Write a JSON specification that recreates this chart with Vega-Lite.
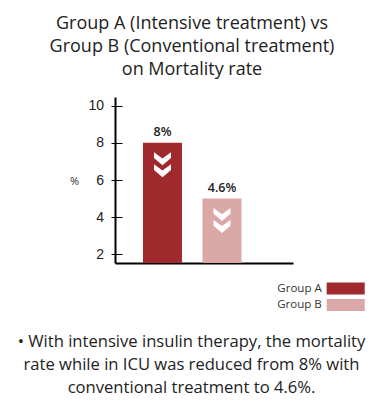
{
  "$schema": "https://vega.github.io/schema/vega-lite/v6.json",
  "autosize": {"type": "none"},
  "width": 178,
  "height": 166,
  "padding": {"left": 115, "top": 97, "right": 89, "bottom": 144},
  "background": "white",
  "title": {
    "text": ["Group A (Intensive treatment) vs", "Group B (Conventional treatment)", "on Mortality rate"],
    "fontSize": 18,
    "font": "Open Sans",
    "fontWeight": "normal",
    "color": "#222222",
    "lineHeight": 23,
    "anchor": "middle",
    "frame": "group",
    "dx": -12,
    "offset": 18
  },
  "data": {
    "values": [
      {"group": "Group A", "value": 8, "label": "8%"},
      {"group": "Group B", "value": 5, "label": "4.6%"}
    ]
  },
  "resolve": {"axis": {"y": "independent"}},
  "encoding": {
    "x": {
      "field": "group",
      "type": "nominal",
      "scale": {"domain": ["Group A", "Group B"], "paddingInner": 0.345, "paddingOuter": 0.668, "align": 0.352}
    }
  },
  "layer": [
    {
      "mark": {"type": "bar"},
      "encoding": {
        "x": {
          "field": "group",
          "type": "nominal",
          "axis": {
            "domain": true, "domainColor": "#000000", "domainWidth": 2,
            "ticks": false, "labels": false,
            "title": ["•  With intensive insulin therapy, the mortality", "rate while in ICU was reduced from 8% with", "conventional treatment to 4.6%."],
            "titleFont": "Open Sans", "titleFontSize": 16.6, "titleFontWeight": "normal", "titleColor": "#222222",
            "titleLineHeight": 23, "titleX": 76, "titleY": 83, "titleAlign": "center", "titleBaseline": "alphabetic", "titleAngle": 0
          }
        },
        "y": {
          "field": "value",
          "type": "quantitative",
          "scale": {"domain": [1.53, 10.47], "nice": false, "zero": false},
          "axis": {
            "values": [2, 4, 6, 8, 10],
            "domain": true, "domainColor": "#000000", "domainWidth": 2,
            "ticks": true, "tickColor": "#000000", "tickWidth": 1, "tickSize": 4,
            "labelPadding": 7.5, "labelFont": "Liberation Sans", "labelFontSize": 14, "labelColor": "#222222",
            "grid": false,
            "title": "%", "titleFont": "Open Sans", "titleFontSize": 11, "titleFontWeight": "normal", "titleColor": "#333333",
            "titleAngle": 0, "titleX": -41, "titleY": 84, "titleAlign": "center", "titleBaseline": "middle"
          }
        },
        "y2": {"datum": 1.53},
        "color": {
          "field": "group",
          "type": "nominal",
          "scale": {"domain": ["Group A", "Group B"], "range": ["#a0292e", "#dba8a8"]},
          "legend": {
            "title": null,
            "orient": "none",
            "legendX": 159.7,
            "legendY": 185.5,
            "padding": 0,
            "symbolType": "M-3.17,-0.98H3.17V0.98H-3.17Z",
            "symbolSize": 144,
            "symbolStrokeWidth": 0,
            "symbolOffset": 65,
            "rowPadding": 4.5,
            "labelAlign": "right",
            "labelOffset": -30,
            "labelFont": "Open Sans",
            "labelFontSize": 11.5,
            "labelColor": "#333333"
          }
        }
      }
    },
    {
      "mark": {"type": "text", "baseline": "bottom", "dy": -4, "font": "Open Sans", "fontSize": 12.5, "fontWeight": 600, "color": "#222222"},
      "encoding": {
        "x": {"field": "group", "type": "nominal"},
        "y": {
          "field": "value",
          "type": "quantitative",
          "scale": {"domain": [1.53, 10.47], "nice": false, "zero": false},
          "axis": {
            "orient": "left", "offset": -7,
            "values": [2, 4, 6, 8, 10],
            "domain": false, "labels": false, "grid": false,
            "ticks": true, "tickColor": "#000000", "tickWidth": 1, "tickSize": 7,
            "title": null
          }
        },
        "text": {"field": "label", "type": "nominal"}
      }
    },
    {
      "mark": {
        "type": "point",
        "shape": "M-1,-1.47L0,-0.75L1,-1.47L1,-0.8L0,0.05L-1,-0.8ZM-1,-0.07L0,0.65L1,-0.07L1,0.6L0,1.47L-1,0.6Z",
        "size": 289,
        "filled": true,
        "fill": "#ffffff",
        "opacity": 1,
        "strokeWidth": 0,
        "yOffset": 22
      },
      "encoding": {
        "x": {"field": "group", "type": "nominal"},
        "y": {"field": "value", "type": "quantitative", "axis": null}
      }
    }
  ],
  "config": {
    "view": {"stroke": null},
    "font": "Open Sans"
  }
}
